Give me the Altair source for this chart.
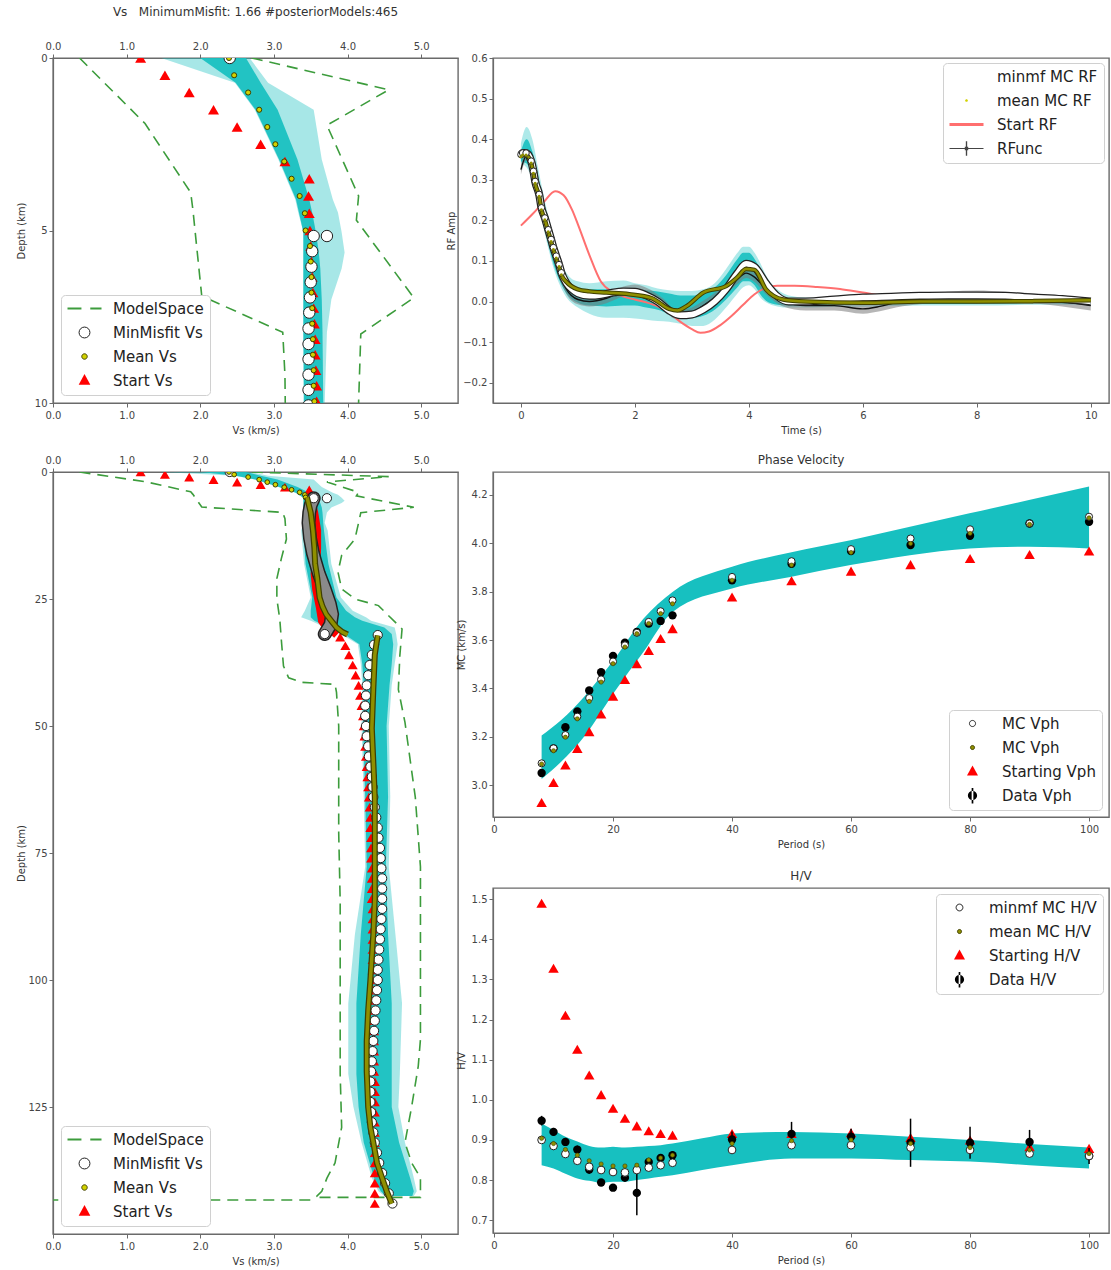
import altair as alt
import pandas as pd

FONT = "DejaVu Sans"
CYAN = "#17c0c0"
GREEN = "#3c9c3c"
RED = "#ff0000"
SALMON = "#ff6f6f"
OLIVE = "#8f8f00"
OLIVE_DARK = "#3f3f00"
YELLOW = "#d2d200"
EDGE = "#222222"

TITLE_VS = "Vs \u00a0 MinimumMisfit: 1.66 #posteriorModels:465"

# ----------------------------- Vs profile data (depth km, Vs km/s) -----------------------------
MS_MIN = [(0, 0.36), (1.9, 1.25), (3.9, 1.87), (4.4, 1.9), (6.9, 2.02), (7.95, 3.12), (9.2, 3.15),
          (13.2, 3.17), (17.1, 3.1), (21, 3.04), (25, 3.04), (29, 3.08), (32.9, 3.1), (38.2, 3.13),
          (40.5, 3.2), (41.4, 3.38), (41.8, 3.83), (43.4, 3.85), (50, 3.88), (71, 3.88), (84.5, 3.9),
          (118.5, 3.9), (129, 3.92), (136, 3.83), (139, 3.72), (141.6, 3.65), (142.6, 3.58),
          (143.3, 3.5), (143.3, 0.0)]
MS_MAX = [(0, 2.7), (0.92, 4.56), (1.95, 3.72), (4.0, 4.15), (4.7, 4.12), (6.95, 4.9), (8.0, 4.18),
          (10, 4.15), (13.2, 4.1), (16.4, 3.92), (19.7, 3.87), (23, 3.92), (25, 4.1), (26.3, 4.42),
          (30.9, 4.74), (36.2, 4.71), (42.8, 4.69), (49.3, 4.78), (64, 4.92), (77.7, 4.99),
          (111.7, 4.99), (117, 4.96), (125, 4.87), (132, 4.78), (136, 4.87), (138.9, 4.99),
          (142.8, 4.99), (142.8, 3.6)]
# depth, outer lo, outer hi, core lo, core hi
VS_BAND = [(0.0, 1.47, 2.67, 2.00, 2.62), (0.72, 2.47, 2.92, 2.48, 2.82), (1.5, 2.74, 3.54, 2.75, 3.05),
           (2.94, 3.06, 3.65, 3.07, 3.32), (4.1, 3.29, 3.80, 3.30, 3.48), (4.48, 3.33, 3.87, 3.34, 3.52),
           (5.05, 3.40, 3.92, 3.40, 3.57), (5.64, 3.40, 3.96, 3.40, 3.61), (6.1, 3.40, 3.92, 3.40, 3.63),
           (7.0, 3.40, 3.78, 3.40, 3.65), (7.95, 3.40, 3.72, 3.40, 3.66), (10.0, 3.40, 3.69, 3.41, 3.67),
           (11.5, 3.37, 3.73, 3.40, 3.68), (18.1, 3.41, 3.78, 3.43, 3.74), (24.7, 3.50, 3.91, 3.52, 3.85),
           (27.3, 3.42, 4.07, 3.50, 3.98), (28.6, 3.37, 4.25, 3.50, 4.10), (29.3, 3.50, 4.32, 3.55, 4.20),
           (30.6, 3.70, 4.64, 3.75, 4.50), (31.9, 3.91, 4.66, 3.95, 4.60), (33.9, 4.14, 4.68, 4.16, 4.62),
           (37.8, 4.18, 4.64, 4.20, 4.60), (42.0, 4.20, 4.60, 4.22, 4.57), (50.0, 4.19, 4.56, 4.21, 4.53),
           (64.0, 4.22, 4.58, 4.24, 4.55), (77.7, 4.24, 4.56, 4.26, 4.52), (91.0, 4.10, 4.65, 4.18, 4.55),
           (104.6, 4.01, 4.74, 4.12, 4.60), (118.5, 4.01, 4.71, 4.12, 4.60), (125.0, 4.08, 4.69, 4.15, 4.60),
           (132.0, 4.19, 4.78, 4.22, 4.70), (139.0, 4.33, 4.90, 4.36, 4.85), (141.6, 4.42, 4.94, 4.45, 4.90),
           (142.5, 4.50, 4.90, 4.52, 4.88)]
MINMF_PTS = [(0.0, 2.40), (5.16, 3.72), (5.16, 3.54), (5.6, 3.52), (6.05, 3.51), (6.5, 3.50), (6.94, 3.49),
             (7.38, 3.48), (7.84, 3.47), (8.29, 3.47), (8.73, 3.47), (9.18, 3.47), (9.62, 3.47), (10.07, 3.47),
             (31.9, 3.69), (32.1, 4.41), (34, 4.36), (36, 4.33), (38, 4.30), (40, 4.28), (42, 4.26), (44, 4.25),
             (46, 4.24), (48, 4.24), (50, 4.25), (52, 4.26), (54, 4.28), (56, 4.29), (58, 4.31), (60, 4.33),
             (62, 4.34), (64, 4.35), (66, 4.37), (68, 4.39), (70, 4.41), (72, 4.42), (74, 4.44), (76, 4.45),
             (78, 4.46), (80, 4.47), (82, 4.47), (84, 4.47), (86, 4.47), (88, 4.46), (90, 4.45), (92, 4.44),
             (94, 4.43), (96, 4.42), (98, 4.41), (100, 4.41), (102, 4.40), (104, 4.39), (106, 4.38),
             (108, 4.37), (110, 4.36), (112, 4.35), (114, 4.34), (116, 4.33), (118, 4.32), (120, 4.31),
             (122, 4.31), (124, 4.31), (126, 4.32), (128, 4.33), (130, 4.35), (132, 4.37), (134, 4.40),
             (136, 4.43), (138, 4.47), (140, 4.51), (142, 4.56), (144, 4.61)]
MINMF_TUBE = [(5.16, 3.54), (6.5, 3.50), (8, 3.48), (10, 3.47), (13, 3.49), (16, 3.53), (18, 3.57),
              (20, 3.61), (23, 3.69), (26, 3.76), (28, 3.79), (30, 3.77), (31.9, 3.69)]
MEAN_PTS = [(0, 2.39), (0.5, 2.46), (1, 2.65), (1.5, 2.8), (2, 2.91), (2.5, 3.02), (3, 3.14), (3.5, 3.24),
            (4, 3.35), (4.5, 3.42), (5, 3.43), (5.45, 3.49), (5.9, 3.5), (6.35, 3.51), (6.8, 3.51),
            (7.25, 3.52), (7.7, 3.52), (8.15, 3.53), (8.6, 3.53), (9.05, 3.54), (9.5, 3.54), (9.95, 3.55)]
MEAN_LINE = [(5.0, 3.45, 1), (8, 3.5, 1), (11.5, 3.53, 1), (15, 3.55, 1), (18.1, 3.56, 1), (21, 3.59, 1),
             (24.7, 3.62, 1), (26.5, 3.66, 1), (28, 3.71, 1), (29.5, 3.79, 1), (30.6, 3.85, 1),
             (31.5, 3.93, 1), (32.0, 4.0, 1),
             (32.2, 4.41, 2), (34, 4.39, 2), (36, 4.37, 2), (42.8, 4.35, 2), (50.5, 4.33, 2), (57, 4.35, 2),
             (64, 4.37, 2), (75, 4.37, 2), (84, 4.37, 2), (91, 4.35, 2), (100, 4.31, 2), (106, 4.28, 2),
             (112, 4.26, 2), (118, 4.26, 2), (125, 4.28, 2), (129, 4.31, 2), (132, 4.35, 2), (136, 4.4, 2),
             (139, 4.47, 2), (141.5, 4.53, 2), (144, 4.6, 2)]
START_PTS = [(0, 1.19), (0.5, 1.52), (1, 1.85), (1.5, 2.18), (2, 2.5), (2.5, 2.82), (3, 3.15), (3.5, 3.48),
             (4, 3.47), (4.5, 3.48), (5, 3.49), (5.45, 3.5), (5.9, 3.51), (6.35, 3.52), (6.8, 3.53),
             (7.25, 3.54), (7.7, 3.55), (8.15, 3.56), (8.6, 3.56), (9.05, 3.57), (9.5, 3.58), (9.95, 3.58),
             (32.5, 3.9), (34.2, 3.97), (36, 4.02), (38, 4.07), (40, 4.11), (42, 4.15), (44, 4.17),
             (46, 4.19), (48, 4.21), (50, 4.22), (52, 4.23), (54, 4.24), (56, 4.25), (58, 4.26), (60, 4.27),
             (62, 4.28), (64, 4.29), (66, 4.30), (68, 4.31), (70, 4.31), (72, 4.32), (74, 4.32), (76, 4.32),
             (78, 4.33), (80, 4.33), (82, 4.33), (84, 4.33), (86, 4.34), (88, 4.34), (90, 4.34), (92, 4.34),
             (94, 4.34), (96, 4.34), (98, 4.34), (100, 4.34), (102, 4.35), (104, 4.35), (106, 4.35),
             (108, 4.35), (110, 4.36), (112, 4.36), (114, 4.36), (116, 4.36), (118, 4.36), (120, 4.37),
             (122, 4.37), (124, 4.37), (126, 4.37), (128, 4.37), (130, 4.37), (132, 4.37), (134, 4.37),
             (136, 4.37), (138, 4.37), (140, 4.37), (142, 4.37), (144, 4.37)]
START_LINE = [(5, 3.49), (8, 3.54), (11.5, 3.58), (15, 3.58), (18, 3.57), (20, 3.56), (23, 3.58),
              (26.6, 3.63), (29.3, 3.66), (30.5, 3.72), (31.2, 3.8), (32, 3.86)]
VS_TICKS = [0, 1, 2, 3, 4, 5]

# ----------------------------- receiver function data (t s, amplitude) -----------------------------
RF_START = [(0, 0.187), (0.2, 0.215), (0.4, 0.245), (0.6, 0.272), (0.75, 0.262), (0.9, 0.225), (1.0, 0.19),
            (1.2, 0.115), (1.4, 0.05), (1.6, 0.024), (1.8, 0.012), (2.0, 0.005), (2.2, -0.002),
            (2.4, -0.012), (2.6, -0.028), (2.8, -0.05), (3.0, -0.068), (3.15, -0.077), (3.3, -0.074),
            (3.5, -0.058), (3.7, -0.035), (3.9, -0.008), (4.1, 0.018), (4.3, 0.034), (4.5, 0.039),
            (4.8, 0.039), (5.2, 0.036), (5.6, 0.031), (6.0, 0.022), (6.5, 0.011), (7.0, 0.003),
            (8.0, -0.002), (9.0, -0.002), (10.0, 0.0)]
RF_MINMF = [(0.0, 0.362), (0.03, 0.366), (0.09, 0.366), (0.18, 0.346), (0.22, 0.321), (0.25, 0.296),
            (0.32, 0.264), (0.36, 0.231), (0.42, 0.206), (0.48, 0.177), (0.53, 0.153), (0.57, 0.133),
            (0.62, 0.112), (0.67, 0.091), (0.71, 0.071), (0.8, 0.045), (0.9, 0.03), (1.0, 0.02),
            (1.2, 0.014), (1.4, 0.016), (1.6, 0.022), (1.8, 0.025), (2.0, 0.024), (2.2, 0.015), (2.4, 0.0),
            (2.6, -0.022), (2.8, -0.034), (3.0, -0.032), (3.2, -0.02), (3.4, 0.0), (3.6, 0.03), (3.8, 0.07),
            (3.95, 0.093), (4.1, 0.085), (4.3, 0.045), (4.5, 0.013), (4.7, 0.0), (5.0, 0.0), (5.5, 0.005),
            (6.0, 0.01), (6.5, 0.012), (7.0, 0.014), (7.5, 0.015), (8.0, 0.015), (8.5, 0.014), (9.0, 0.01),
            (9.5, 0.006), (10.0, 0.0)]
RF_MEAN = [(0.0, 0.357), (0.03, 0.361), (0.09, 0.361), (0.18, 0.341), (0.22, 0.316), (0.25, 0.291),
           (0.32, 0.259), (0.36, 0.226), (0.42, 0.201), (0.48, 0.172), (0.53, 0.148), (0.57, 0.128),
           (0.62, 0.107), (0.67, 0.086), (0.71, 0.066), (0.8, 0.048), (1.0, 0.03), (1.2, 0.025),
           (1.5, 0.022), (1.9, 0.018), (2.3, 0.008), (2.6, -0.018), (2.75, -0.022), (2.9, -0.012),
           (3.2, 0.022), (3.6, 0.038), (3.8, 0.06), (3.95, 0.08), (4.1, 0.078), (4.3, 0.03), (4.6, 0.005),
           (5.0, 0.0), (6.0, -0.003), (7.0, 0.0), (8.0, 0.0), (9.0, 0.001), (10.0, 0.003)]
RF_MARK_T = [0.0, 0.03, 0.09, 0.18, 0.22, 0.25, 0.32, 0.36, 0.42, 0.48, 0.53, 0.57, 0.62, 0.67, 0.71]
RF_DATA = [(0.0, 0.325), (0.1, 0.36), (0.2, 0.335), (0.3, 0.28), (0.4, 0.21), (0.5, 0.15), (0.6, 0.1),
           (0.7, 0.06), (0.8, 0.03), (1.0, 0.005), (1.2, 0.0), (1.5, 0.008), (1.8, 0.025), (2.0, 0.03),
           (2.2, 0.022), (2.5, -0.005), (2.7, -0.03), (2.9, -0.03), (3.2, -0.01), (3.5, 0.02), (3.8, 0.055),
           (3.95, 0.07), (4.1, 0.06), (4.3, 0.03), (4.6, 0.0), (5.0, -0.01), (5.5, -0.01), (6.0, -0.018),
           (6.3, -0.012), (6.6, -0.002), (7.0, 0.005), (7.5, 0.012), (8.0, 0.015), (8.5, 0.012),
           (9.0, 0.008), (9.5, 0.0), (10.0, -0.01)]
RF_DATA_ERR = 0.012
# t, outer lo, outer hi, core lo, core hi
RF_BAND = [(0.0, 0.34, 0.39, 0.345, 0.37), (0.1, 0.33, 0.43, 0.34, 0.40), (0.2, 0.30, 0.40, 0.31, 0.37),
           (0.3, 0.25, 0.33, 0.26, 0.31), (0.4, 0.18, 0.26, 0.19, 0.24), (0.5, 0.12, 0.20, 0.13, 0.18),
           (0.6, 0.07, 0.15, 0.08, 0.13), (0.7, 0.035, 0.10, 0.045, 0.085), (0.8, 0.01, 0.07, 0.02, 0.055),
           (0.9, -0.005, 0.055, 0.005, 0.04), (1.0, -0.015, 0.05, -0.003, 0.035),
           (1.2, -0.03, 0.045, -0.01, 0.03), (1.5, -0.04, 0.05, -0.012, 0.03), (1.8, -0.04, 0.052, -0.01, 0.03),
           (2.0, -0.042, 0.045, -0.01, 0.03), (2.2, -0.045, 0.04, -0.015, 0.028),
           (2.4, -0.048, 0.032, -0.02, 0.025), (2.6, -0.05, 0.028, -0.03, 0.02),
           (2.8, -0.055, 0.026, -0.04, 0.015), (3.0, -0.06, 0.026, -0.04, 0.015),
           (3.2, -0.06, 0.03, -0.035, 0.02), (3.4, -0.045, 0.045, -0.02, 0.035),
           (3.6, -0.015, 0.08, 0.005, 0.065), (3.8, 0.02, 0.12, 0.035, 0.105), (3.9, 0.035, 0.135, 0.05, 0.12),
           (4.0, 0.04, 0.135, 0.05, 0.12), (4.1, 0.03, 0.12, 0.04, 0.105), (4.2, 0.01, 0.095, 0.018, 0.08),
           (4.3, -0.002, 0.065, 0.002, 0.05), (4.5, -0.012, 0.03, -0.008, 0.02),
           (4.7, -0.015, 0.015, -0.01, 0.008), (5.0, -0.015, 0.01, -0.01, 0.006),
           (5.5, -0.013, 0.008, -0.008, 0.004), (6.0, -0.013, 0.006, -0.008, 0.003),
           (7.0, -0.01, 0.006, -0.006, 0.003), (8.0, -0.01, 0.005, -0.006, 0.003),
           (9.0, -0.008, 0.005, -0.005, 0.003), (10.0, -0.008, 0.005, -0.005, 0.003)]

# ----------------------------- dispersion / H/V data -----------------------------
PERIODS = [8, 10, 12, 14, 16, 18, 20, 22, 24, 26, 28, 30, 40, 50, 60, 70, 80, 90, 100]
PV_START = [2.928, 3.011, 3.083, 3.152, 3.221, 3.294, 3.368, 3.437, 3.502, 3.557, 3.606, 3.647, 3.778,
            3.845, 3.885, 3.912, 3.937, 3.954, 3.968]
PV_DATA = [3.05, 3.152, 3.239, 3.305, 3.391, 3.467, 3.534, 3.589, 3.633, 3.668, 3.679, 3.702, 3.847,
           3.915, 3.968, 3.993, 4.031, 4.082, 4.089]
PV_MINMF = [3.09, 3.152, 3.207, 3.283, 3.36, 3.437, 3.511, 3.578, 3.63, 3.675, 3.719, 3.764, 3.861,
            3.926, 3.976, 4.02, 4.058, 4.082, 4.11]
PV_MEAN = [3.087, 3.142, 3.198, 3.274, 3.346, 3.426, 3.502, 3.571, 3.626, 3.668, 3.709, 3.75, 3.847,
           3.91, 3.962, 3.999, 4.041, 4.078, 4.105]
PV_BAND_P = [8, 11.2, 15.3, 20.2, 25.1, 30, 40, 49.8, 59.9, 69.9, 79.9, 89.9, 100]
PV_BAND_LO = [3.025, 3.094, 3.205, 3.384, 3.55, 3.716, 3.813, 3.861, 3.91, 3.951, 3.979, 3.986, 3.979]
PV_BAND_HI = [3.205, 3.267, 3.37, 3.52, 3.688, 3.799, 3.903, 3.962, 4.013, 4.069, 4.124, 4.179, 4.235]

HV_START = [1.49, 1.328, 1.211, 1.126, 1.062, 1.013, 0.979, 0.954, 0.935, 0.923, 0.916, 0.912, 0.916,
            0.916, 0.918, 0.906, 0.9, 0.883, 0.879]
HV_DATA = [0.948, 0.92, 0.895, 0.876, 0.826, 0.794, 0.781, 0.806, 0.768, 0.845, 0.855, 0.862, 0.901,
           0.915, 0.908, 0.893, 0.893, 0.895, 0.86]
HV_ERR = [0.012, 0.01, 0.01, 0.01, 0.01, 0.008, 0.008, 0.01, 0.056, 0.01, 0.01, 0.01, 0.02, 0.03, 0.02,
          0.06, 0.04, 0.03, 0.02]
HV_MINMF = [0.9, 0.885, 0.865, 0.848, 0.833, 0.825, 0.82, 0.819, 0.825, 0.831, 0.837, 0.843, 0.875,
            0.887, 0.887, 0.881, 0.875, 0.866, 0.86]
HV_MEAN = [0.904, 0.891, 0.876, 0.862, 0.848, 0.84, 0.835, 0.835, 0.837, 0.85, 0.855, 0.862, 0.891,
           0.898, 0.9, 0.891, 0.881, 0.875, 0.866]
HV_BAND_P = [8, 10, 12, 14, 16, 18, 20, 22, 24, 26, 28, 30, 35, 40, 50, 60, 70, 80, 90, 100]
HV_BAND_LO = [0.837, 0.829, 0.816, 0.804, 0.798, 0.793, 0.796, 0.796, 0.8, 0.804, 0.808, 0.812, 0.825,
              0.837, 0.854, 0.854, 0.85, 0.846, 0.837, 0.829]
HV_BAND_HI = [0.941, 0.925, 0.908, 0.896, 0.885, 0.881, 0.883, 0.881, 0.883, 0.885, 0.887, 0.891, 0.904,
              0.916, 0.92, 0.916, 0.908, 0.9, 0.89, 0.881]


# ----------------------------- helpers -----------------------------
def frame(rows, cols):
    d = pd.DataFrame(rows, columns=cols)
    d["i"] = range(len(d))
    return d


# legend symbol paths: unit box [-1, 1] == 34 px (symbol size 1156)
LEG_SIZE = 1156


def circ(r):
    return f"M{-r},0A{r},{r} 0 1,0 {r},0A{r},{r} 0 1,0 {-r},0Z"


def tri(s):
    return f"M0,{-1.05 * s}L{0.95 * s},{0.7 * s}L{-0.95 * s},{0.7 * s}Z"


DASH_PATH = "M-1,-0.06H-0.18V0.06H-1Z M0.34,-0.06H1V0.06H0.34Z"
BAR_PATH = "M-1,-0.09H1V0.09H-1Z"
RFUNC_PATH = "M-1,-0.03H1V0.03H-1Z M-0.04,-0.42H0.04V0.42H-0.04Z M-0.1,-0.1H0.1V0.1H-0.1Z"
ERRDOT_PATH = circ(0.27) + " M-0.05,-0.6H0.05V0.6H-0.05Z"


def legend_layer(names, shapes, fills, strokes, **kw):
    leg = alt.Legend(title=None, labelFont=FONT, labelFontSize=15, labelColor="#222222",
                     fillColor="#ffffff", strokeColor="#d0d0d0", cornerRadius=4, padding=6,
                     rowPadding=8, clipHeight=15, symbolStrokeWidth=1.0, symbolSize=LEG_SIZE, **kw)
    df = pd.DataFrame({"series": names})

    def sc(rng):
        return alt.Scale(domain=names, range=rng)

    return (alt.Chart(df).mark_point(filled=True, opacity=1, size=LEG_SIZE)
            .encode(shape=alt.Shape("series:N", scale=sc(shapes), legend=leg),
                    fill=alt.Fill("series:N", scale=sc(fills), legend=leg),
                    stroke=alt.Stroke("series:N", scale=sc(strokes), legend=leg))
            .transform_filter("false"))


def vs_panel(ymax, yticks, height, big, title=None):
    sc_x = alt.Scale(domain=[0, 5.5], nice=False, zero=False)
    ax_b = alt.Axis(values=VS_TICKS, format=".1f", title="Vs (km/s)", minExtent=17, maxExtent=17,
                    titlePadding=5)
    ax_t = alt.Axis(orient="top", values=VS_TICKS, format=".1f", title=None, minExtent=17, maxExtent=17)
    sc_y = alt.Scale(domain=[0, ymax], reverse=True, nice=False, zero=False)
    ax_y = alt.Axis(values=yticks, title="Depth (km)", minExtent=24, maxExtent=24, titlePadding=3,
                    labelPadding=2)

    def X(f):
        return alt.X(f"{f}:Q", scale=sc_x, axis=ax_b)

    Y = alt.Y("depth:Q", scale=sc_y, axis=ax_y)

    band = frame(VS_BAND, ["depth", "lo", "hi", "clo", "chi"])
    ms = pd.concat([frame(MS_MIN, ["depth", "vs"]).assign(bound="min"),
                    frame(MS_MAX, ["depth", "vs"]).assign(bound="max")], ignore_index=True)
    minmf = frame(MINMF_PTS, ["depth", "vs"])
    mean = frame(MEAN_PTS, ["depth", "vs"])
    start = frame(START_PTS, ["depth", "vs"])

    c_size, t_size, m_size = (85, 100, 22) if big else (130, 120, 26)

    layers = [
        alt.Chart(band).mark_area(orient="horizontal", color=CYAN, opacity=0.38, clip=True)
        .encode(x=X("lo"), x2="hi:Q", y=Y),
        alt.Chart(band).mark_area(orient="horizontal", color=CYAN, opacity=0.92, clip=True)
        .encode(x=X("clo"), x2="chi:Q", y=Y),
        alt.Chart(ms).mark_line(color=GREEN, strokeDash=[11, 7], strokeWidth=1.6, clip=True)
        .encode(x=X("vs"), y=Y, detail="bound:N", order="i:Q"),
    ]
    st = alt.Chart(start).mark_point(shape="triangle-up", filled=True, fill=RED, strokeWidth=0,
                                     size=t_size, opacity=1, clip=True).encode(x=X("vs"), y=Y)
    mm = alt.Chart(minmf).mark_point(shape="circle", filled=True, fill="white", stroke=EDGE,
                                     strokeWidth=1, size=c_size, opacity=1, clip=True).encode(x=X("vs"), y=Y)
    mn = alt.Chart(mean).mark_point(shape="circle", filled=True, fill=YELLOW, stroke=OLIVE_DARK,
                                    strokeWidth=1, size=m_size, opacity=1, clip=True).encode(x=X("vs"), y=Y)
    if big:
        st = st.transform_filter("datum.depth <= 5.2 || datum.depth >= 32")
        mm = mm.transform_filter("datum.depth <= 5.2 || datum.depth >= 31.8")
        mn = mn.transform_filter("datum.depth <= 5.0")
        sline = frame(START_LINE, ["depth", "vs"])
        tube = frame(MINMF_TUBE, ["depth", "vs"])
        mline = frame(MEAN_LINE, ["depth", "vs", "seg"])
        layers += [
            st,
            alt.Chart(sline).mark_line(color=RED, strokeWidth=9, clip=True)
            .encode(x=X("vs"), y=Y, order="i:Q"),
            alt.Chart(tube).mark_line(color=EDGE, strokeWidth=14, strokeCap="round", clip=True)
            .encode(x=X("vs"), y=Y, order="i:Q"),
            alt.Chart(tube).mark_line(color="#8a8a8a", strokeWidth=11, strokeCap="round", clip=True)
            .encode(x=X("vs"), y=Y, order="i:Q"),
            mm,
            mn,
            alt.Chart(mline).mark_line(color=OLIVE_DARK, strokeWidth=6, clip=True)
            .encode(x=X("vs"), y=Y, detail="seg:N", order="i:Q"),
            alt.Chart(mline).mark_line(color=OLIVE, strokeWidth=3.5, clip=True)
            .encode(x=X("vs"), y=Y, detail="seg:N", order="i:Q"),
        ]
    else:
        layers += [st, mm, mn]

    layers.append(legend_layer(
        ["ModelSpace", "MinMisfit Vs", "Mean Vs", "Start Vs"],
        [DASH_PATH, circ(0.32), circ(0.16), tri(0.36)],
        [GREEN, "white", YELLOW, RED],
        ["transparent", EDGE, OLIVE_DARK, "transparent"],
        orient="bottom-left", offset=8, symbolOffset=0, labelOffset=11))

    inner = alt.layer(*layers)
    top = alt.Chart(mean).mark_point(opacity=0).encode(x=alt.X("vs:Q", scale=sc_x, axis=ax_t), y=Y)
    props = dict(width=405, height=height)
    if title:
        props["title"] = alt.TitleParams(title, fontSize=12, offset=22, frame="group")
    return alt.layer(inner, top).resolve_axis(x="independent").properties(**props)


# ----------------------------- panels -----------------------------
tl = vs_panel(10, [0, 5, 10], 345, False, TITLE_VS)
bl = vs_panel(150, [0, 25, 50, 75, 100, 125], 762, True)

# Receiver function
rf_sx = alt.Scale(domain=[-0.49, 10.32], nice=False, zero=False)
rf_sy = alt.Scale(domain=[-0.25, 0.6], nice=False, zero=False)
rf_ax = alt.Axis(values=[0, 2, 4, 6, 8, 10], title="Time (s)", minExtent=17, maxExtent=17, titlePadding=5)
rf_ay = alt.Axis(values=[-0.2, -0.1, 0.0, 0.1, 0.2, 0.3, 0.4, 0.5, 0.6], format=".1f", title="RF Amp",
                 minExtent=34, maxExtent=34, titlePadding=3, labelPadding=2)


def RX():
    return alt.X("t:Q", scale=rf_sx, axis=rf_ax)


def RY(f):
    return alt.Y(f"{f}:Q", scale=rf_sy, axis=rf_ay)


rf_band = frame(RF_BAND, ["t", "lo", "hi", "clo", "chi"])
rf_start = frame(RF_START, ["t", "amp"])
rf_minmf = frame(RF_MINMF, ["t", "amp"])
rf_mean = frame(RF_MEAN, ["t", "amp"])
rf_data = frame(RF_DATA, ["t", "amp"])
rf_data["lo"] = rf_data["amp"] - RF_DATA_ERR
rf_data["hi"] = rf_data["amp"] + RF_DATA_ERR
rf_mk_minmf = rf_minmf[rf_minmf["t"].isin(RF_MARK_T)]
rf_mk_mean = rf_mean[rf_mean["t"].isin(RF_MARK_T)]

tr = alt.layer(
    alt.Chart(rf_band).mark_area(color=CYAN, opacity=0.35, interpolate="monotone")
    .encode(x=RX(), y=RY("lo"), y2="hi:Q"),
    alt.Chart(rf_band).mark_area(color=CYAN, opacity=0.9, interpolate="monotone")
    .encode(x=RX(), y=RY("clo"), y2="chi:Q"),
    alt.Chart(rf_start).mark_line(color=SALMON, strokeWidth=2, interpolate="monotone")
    .encode(x=RX(), y=RY("amp")),
    alt.Chart(rf_data).mark_area(color="#7a7a7a", opacity=0.55, interpolate="monotone")
    .encode(x=RX(), y=RY("lo"), y2="hi:Q"),
    alt.Chart(rf_data).mark_line(color="#111111", strokeWidth=1.4, interpolate="monotone")
    .encode(x=RX(), y=RY("amp")),
    alt.Chart(rf_minmf).mark_line(color=EDGE, strokeWidth=8, interpolate="monotone")
    .encode(x=RX(), y=RY("amp")),
    alt.Chart(rf_minmf).mark_line(color="white", strokeWidth=5.5, interpolate="monotone")
    .encode(x=RX(), y=RY("amp")),
    alt.Chart(rf_mean).mark_line(color=OLIVE_DARK, strokeWidth=4.5, interpolate="monotone")
    .encode(x=RX(), y=RY("amp")),
    alt.Chart(rf_mean).mark_line(color=OLIVE, strokeWidth=2.5, interpolate="monotone")
    .encode(x=RX(), y=RY("amp")),
    alt.Chart(rf_mk_minmf).mark_point(shape="circle", filled=True, fill="white", stroke=EDGE, strokeWidth=1,
                                      size=42, opacity=1).encode(x=RX(), y=RY("amp")),
    alt.Chart(rf_mk_mean).mark_point(shape="circle", filled=True, fill=OLIVE, strokeWidth=0, size=10,
                                     opacity=1).encode(x=RX(), y=RY("amp")),
    legend_layer(["minmf MC RF", "mean MC RF", "Start RF", "RFunc"],
                 [circ(0.2), circ(0.08), BAR_PATH, RFUNC_PATH],
                 ["white", YELLOW, SALMON, "#444444"],
                 ["white", "transparent", "transparent", "transparent"],
                 orient="top-right", offset=5, symbolOffset=0, labelOffset=13),
).properties(width=616, height=345)

# Phase velocity
p_sx = alt.Scale(domain=[-0.17, 103.35], nice=False, zero=False)
p_ax = alt.Axis(values=[0, 20, 40, 60, 80, 100], title="Period (s)", minExtent=17, maxExtent=17, titlePadding=5)


def PX():
    return alt.X("p:Q", scale=p_sx, axis=p_ax)


pv_sy = alt.Scale(domain=[2.868, 4.295], nice=False, zero=False)
pv_ay = alt.Axis(values=[3.0, 3.2, 3.4, 3.6, 3.8, 4.0, 4.2], format=".1f", title="MC (km/s)",
                 minExtent=26, maxExtent=26, titlePadding=1, labelPadding=2)


def PVY(f):
    return alt.Y(f"{f}:Q", scale=pv_sy, axis=pv_ay)


pv_df = pd.DataFrame({"p": PERIODS, "start": PV_START, "data": PV_DATA, "minmf": PV_MINMF, "mean": PV_MEAN})
pv_band = pd.DataFrame({"p": PV_BAND_P, "lo": PV_BAND_LO, "hi": PV_BAND_HI})
pv_names = ["MC Vph", "MC Vph\u00a0", "Starting Vph", "Data Vph"]

pv = alt.layer(
    alt.Chart(pv_band).mark_area(color=CYAN, opacity=1, interpolate="monotone")
    .encode(x=PX(), y=PVY("lo"), y2="hi:Q"),
    alt.Chart(pv_df).mark_point(shape="triangle-up", filled=True, fill=RED, strokeWidth=0, size=110, opacity=1)
    .encode(x=PX(), y=PVY("start")),
    alt.Chart(pv_df).mark_point(shape="circle", filled=True, fill="black", strokeWidth=0, size=70, opacity=1)
    .encode(x=PX(), y=PVY("data")),
    alt.Chart(pv_df).mark_point(shape="circle", filled=True, fill="white", stroke=EDGE, strokeWidth=1, size=50,
                                opacity=1).encode(x=PX(), y=PVY("minmf")),
    alt.Chart(pv_df).mark_point(shape="circle", filled=True, fill=OLIVE, stroke=OLIVE_DARK, strokeWidth=0.6,
                                size=18, opacity=1).encode(x=PX(), y=PVY("mean")),
    legend_layer(pv_names, [circ(0.18), circ(0.12), tri(0.34), ERRDOT_PATH],
                 ["white", OLIVE, RED, "black"],
                 [EDGE, OLIVE_DARK, "transparent", "transparent"],
                 orient="bottom-right", offset=7, symbolOffset=0, labelOffset=12),
).properties(width=616, height=345,
             title=alt.TitleParams("Phase Velocity", fontSize=12, offset=5, frame="group"))

# H/V
hv_sy = alt.Scale(domain=[0.668, 1.528], nice=False, zero=False)
hv_ay = alt.Axis(values=[0.7, 0.8, 0.9, 1.0, 1.1, 1.2, 1.3, 1.4, 1.5], format=".1f", title="H/V",
                 minExtent=26, maxExtent=26, titlePadding=1, labelPadding=2)


def HVY(f):
    return alt.Y(f"{f}:Q", scale=hv_sy, axis=hv_ay)


hv_df = pd.DataFrame({"p": PERIODS, "start": HV_START, "data": HV_DATA, "err": HV_ERR,
                      "minmf": HV_MINMF, "mean": HV_MEAN})
hv_df["lo"] = hv_df["data"] - hv_df["err"]
hv_df["hi"] = hv_df["data"] + hv_df["err"]
hv_band = pd.DataFrame({"p": HV_BAND_P, "lo": HV_BAND_LO, "hi": HV_BAND_HI})

hv = alt.layer(
    alt.Chart(hv_band).mark_area(color=CYAN, opacity=1, interpolate="monotone")
    .encode(x=PX(), y=HVY("lo"), y2="hi:Q"),
    alt.Chart(hv_df).mark_point(shape="triangle-up", filled=True, fill=RED, strokeWidth=0, size=110, opacity=1)
    .encode(x=PX(), y=HVY("start")),
    alt.Chart(hv_df).mark_rule(color="black", strokeWidth=1.5).encode(x=PX(), y=HVY("lo"), y2="hi:Q"),
    alt.Chart(hv_df).mark_point(shape="circle", filled=True, fill="black", strokeWidth=0, size=70, opacity=1)
    .encode(x=PX(), y=HVY("data")),
    alt.Chart(hv_df).mark_point(shape="circle", filled=True, fill="white", stroke=EDGE, strokeWidth=1, size=60,
                                opacity=1).encode(x=PX(), y=HVY("minmf")),
    alt.Chart(hv_df).mark_point(shape="circle", filled=True, fill=OLIVE, stroke=OLIVE_DARK, strokeWidth=0.6,
                                size=18, opacity=1).encode(x=PX(), y=HVY("mean")),
    legend_layer(["minmf MC H/V", "mean MC H/V", "Starting H/V", "Data H/V"],
                 [circ(0.2), circ(0.12), tri(0.34), ERRDOT_PATH],
                 ["white", OLIVE, RED, "black"],
                 [EDGE, OLIVE_DARK, "transparent", "transparent"],
                 orient="top-right", offset=6, symbolOffset=0, labelOffset=12),
).properties(width=616, height=345,
             title=alt.TitleParams("H/V", fontSize=12, offset=5, frame="group"))


def res(c):
    return (c.resolve_scale(x="independent", y="independent", shape="independent", fill="independent",
                            stroke="independent")
            .resolve_legend(shape="independent", fill="independent", stroke="independent"))


row1 = res(alt.hconcat(tl, tr, spacing=-14))
right_col = res(alt.vconcat(pv, hv, spacing=19))
row2 = res(alt.hconcat(bl, right_col, spacing=-4))
chart = res(alt.vconcat(row1, row2, spacing=17)).properties(
    padding={"left": 15, "top": 5, "right": 0, "bottom": 0}, background="white")

chart = (chart.configure(font=FONT)
         .configure_view(stroke="#6a6a6a", strokeWidth=1.4)
         .configure_axis(labelFont=FONT, labelFontSize=10, labelColor="#444444", titleFont=FONT,
                         titleFontSize=10, titleFontWeight="normal", titleColor="#333333",
                         domainColor="#6a6a6a", domainWidth=1.2, tickColor="#6a6a6a", tickSize=4,
                         labelPadding=3, grid=False, labelFlush=False, labelOverlap=False)
         .configure_title(font=FONT, fontSize=12, fontWeight="normal", color="#333333", anchor="middle"))

chart.save("out.html", embed_options={"renderer": "svg", "actions": False})
